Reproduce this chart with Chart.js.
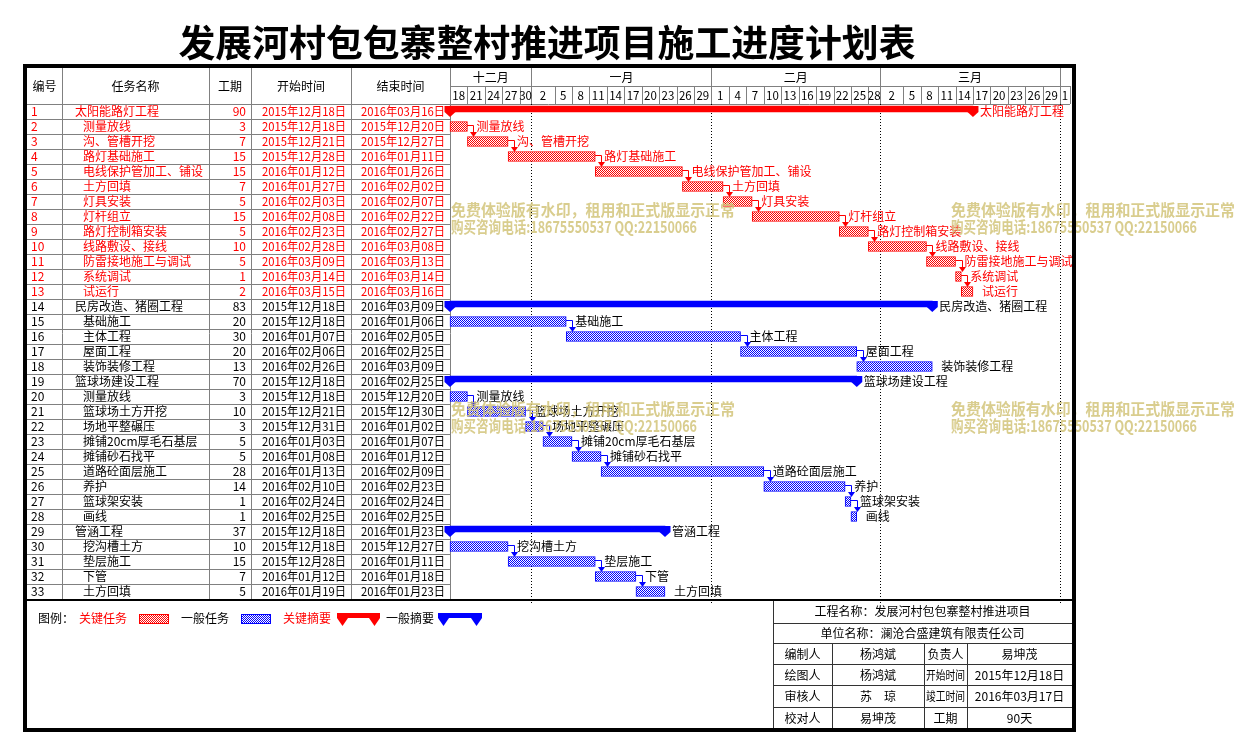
<!DOCTYPE html>
<html>
<head>
<meta charset="utf-8">
<script src="https://cdn.jsdelivr.net/npm/chart.js@4.4.0/dist/chart.umd.min.js"></script>
<style>
  html, body { margin: 0; padding: 0; background: #fff; overflow: hidden; }
  canvas { display: block; }
</style>
</head>
<body>
<canvas id="gantt" width="1234" height="754"></canvas>
<script>
const title = '发展河村包包寨整村推进项目施工进度计划表';

const taskIds = [1, 2, 3, 4, 5, 6, 7, 8, 9, 10, 11, 12, 13, 14, 15, 16, 17, 18, 19, 20, 21, 22, 23, 24, 25, 26, 27, 28, 29, 30, 31, 32, 33];
const taskNames = [
  '太阳能路灯工程', '测量放线', '沟、管槽开挖', '路灯基础施工', '电线保护管加工、铺设', '土方回填', '灯具安装',
  '灯杆组立', '路灯控制箱安装', '线路敷设、接线', '防雷接地施工与调试', '系统调试', '试运行',
  '民房改造、猪圈工程', '基础施工', '主体工程', '屋面工程', '装饰装修工程',
  '篮球场建设工程', '测量放线', '篮球场土方开挖', '场地平整碾压', '摊铺20cm厚毛石基层', '摊铺砂石找平',
  '道路砼面层施工', '养护', '篮球架安装', '画线',
  '管涵工程', '挖沟槽土方', '垫层施工', '下管', '土方回填'
];
const durations = [90, 3, 7, 15, 15, 7, 5, 15, 5, 10, 5, 1, 2, 83, 20, 30, 20, 13, 70, 3, 10, 3, 5, 5, 28, 14, 1, 1, 37, 10, 15, 7, 5];
const startDates = [
  '2015年12月18日', '2015年12月18日', '2015年12月21日', '2015年12月28日', '2016年01月12日', '2016年01月27日', '2016年02月03日',
  '2016年02月08日', '2016年02月23日', '2016年02月28日', '2016年03月09日', '2016年03月14日', '2016年03月15日',
  '2015年12月18日', '2015年12月18日', '2016年01月07日', '2016年02月06日', '2016年02月26日',
  '2015年12月18日', '2015年12月18日', '2015年12月21日', '2015年12月31日', '2016年01月03日', '2016年01月08日',
  '2016年01月13日', '2016年02月10日', '2016年02月24日', '2016年02月25日',
  '2015年12月18日', '2015年12月18日', '2015年12月28日', '2016年01月12日', '2016年01月19日'
];
const endDates = [
  '2016年03月16日', '2015年12月20日', '2015年12月27日', '2016年01月11日', '2016年01月26日', '2016年02月02日', '2016年02月07日',
  '2016年02月22日', '2016年02月27日', '2016年03月08日', '2016年03月13日', '2016年03月14日', '2016年03月16日',
  '2016年03月09日', '2016年01月06日', '2016年02月05日', '2016年02月25日', '2016年03月09日',
  '2016年02月25日', '2015年12月20日', '2015年12月30日', '2016年01月02日', '2016年01月07日', '2016年01月12日',
  '2016年02月09日', '2016年02月23日', '2016年02月24日', '2016年02月25日',
  '2016年01月23日', '2015年12月27日', '2016年01月11日', '2016年01月18日', '2016年01月23日'
];
const criticalRows = [1, 2, 3, 4, 5, 6, 7, 8, 9, 10, 11, 12, 13];
const summaryRows = [1, 14, 19, 29];

const monthNames = ['十二月', '一月', '二月', '三月', ''];
const monthStarts = ['2015年12月18日', '2016年01月01日', '2016年02月01日', '2016年03月01日', '2016年04月01日'];
const dayTickLabels = ['18', '21', '24', '27', '30', '2', '5', '8', '11', '14', '17', '20', '23', '26', '29',
  '1', '4', '7', '10', '13', '16', '19', '22', '25', '28', '2', '5', '8', '11', '14', '17', '20', '23', '26', '29', '1'];

const tableHeaders = ['编号', '任务名称', '工期', '开始时间', '结束时间'];
const legendLabels = ['图例：', '关键任务', '一般任务', '关键摘要', '一般摘要'];
const projectLine = '工程名称：发展河村包包寨整村推进项目';
const companyLine = '单位名称：澜沧合盛建筑有限责任公司';
const signRows = [
  ['编制人', '杨鸿斌', '负责人', '易坤茂'],
  ['绘图人', '杨鸿斌', '开始时间', '2015年12月18日'],
  ['审核人', '苏　琼', '竣工时间', '2016年03月17日'],
  ['校对人', '易坤茂', '工期', '90天']
];
const watermark = ['免费体验版有水印，租用和正式版显示正常', '购买咨询电话:18675550537 QQ:22150066'];

const RED = '#ff0000';
const BLUE = '#0000ff';
const GRID = '#808080';
const FONT = '"Noto Sans CJK SC", "Noto Sans", sans-serif';

const toDay = (s) => {
  const m = s.match(/(\d+)年(\d+)月(\d+)日/);
  const o = monthStarts[0].match(/(\d+)年(\d+)月(\d+)日/);
  return (Date.UTC(+m[1], m[2] - 1, +m[3]) - Date.UTC(+o[1], o[2] - 1, +o[3])) / 86400000;
};

const isCritical = (id) => criticalRows.includes(id);
const isSummary = (id) => summaryRows.includes(id);

const canvas = document.getElementById('gantt');
const mainCtx = canvas.getContext('2d');

const makePattern = (color) => {
  const pc = document.createElement('canvas');
  pc.width = 2; pc.height = 2;
  const p = pc.getContext('2d');
  p.fillStyle = '#ffffff';
  p.fillRect(0, 0, 2, 2);
  p.fillStyle = color;
  p.fillRect(0, 0, 1, 1);
  p.fillRect(1, 1, 1, 1);
  return mainCtx.createPattern(pc, 'repeat');
};
const redPattern = makePattern(RED);
const bluePattern = makePattern(BLUE);

const barData = (pick) => taskIds.map((id, i) => pick(id) ? [toDay(startDates[i]), toDay(endDates[i]) + 1] : null);

// dataset index for each row
const rowDataset = (id) => isSummary(id) ? (isCritical(id) ? 2 : 3) : (isCritical(id) ? 0 : 1);

const SUMMARY_SHIFT = -2.5;

const drawCap = (ctx, x, top, bottom, tip, color) => {
  ctx.fillStyle = color;
  ctx.beginPath();
  ctx.moveTo(x - 5.5, top);
  ctx.lineTo(x + 5.5, top);
  ctx.lineTo(x + 5.5, bottom);
  ctx.lineTo(x, tip);
  ctx.lineTo(x - 5.5, bottom);
  ctx.closePath();
  ctx.fill();
};

const text = (ctx, str, x, y, opts = {}) => {
  ctx.font = `${opts.weight || 'normal'} ${opts.size || 12}px ${FONT}`;
  ctx.fillStyle = opts.color || '#000';
  ctx.textAlign = opts.align || 'left';
  ctx.textBaseline = 'middle';
  if (opts.maxWidth) ctx.fillText(str, x, y, opts.maxWidth);
  else ctx.fillText(str, x, y);
};

const hLine = (ctx, x0, x1, y, color) => {
  ctx.strokeStyle = color; ctx.lineWidth = 1;
  ctx.beginPath(); ctx.moveTo(x0, Math.round(y) + 0.5); ctx.lineTo(x1, Math.round(y) + 0.5); ctx.stroke();
};
const vLine = (ctx, x, y0, y1, color) => {
  ctx.strokeStyle = color; ctx.lineWidth = 1;
  ctx.beginPath(); ctx.moveTo(Math.round(x) + 0.5, y0); ctx.lineTo(Math.round(x) + 0.5, y1); ctx.stroke();
};

const tableCols = [27, 62, 209, 251, 351, 450];

const ganttSheet = {
  id: 'ganttSheet',
  beforeDraw(chart) {
    const { ctx, chartArea, scales: { x, y } } = chart;
    ctx.save();
    ctx.fillStyle = '#fff';
    ctx.fillRect(0, 0, chart.width, chart.height);

    text(ctx, title, 547, 43, { size: 37, weight: 'bold', align: 'center', maxWidth: 737 });

    const headTop = 68, monthBottom = 86, headBottom = chartArea.top;
    const half = (y.getPixelForValue(1) - y.getPixelForValue(0)) / 2;

    // table header
    tableHeaders.forEach((h, i) => {
      text(ctx, h, (tableCols[i] + tableCols[i + 1]) / 2, (headTop + headBottom) / 2, { align: 'center' });
    });
    tableCols.slice(1).forEach((cx) => vLine(ctx, cx, headTop, chartArea.bottom, GRID));
    hLine(ctx, tableCols[0], chartArea.right, headBottom, GRID);

    // table rows
    taskIds.forEach((id, i) => {
      const cy = y.getPixelForValue(i);
      hLine(ctx, tableCols[0], tableCols[5], cy + half, GRID);
      const color = isCritical(id) ? RED : '#000';
      text(ctx, String(id), 31, cy, { color });
      text(ctx, taskNames[i], isSummary(id) ? 75 : 83, cy, { color });
      text(ctx, String(durations[i]), 246, cy, { color, align: 'right' });
      text(ctx, startDates[i], 346, cy, { color, align: 'right', maxWidth: 84 });
      text(ctx, endDates[i], 445, cy, { color, align: 'right', maxWidth: 84 });
    });

    // timeline header
    const months = monthStarts.map(toDay);
    const edges = [...months, x.max];
    hLine(ctx, chartArea.left, chartArea.right, monthBottom, GRID);
    monthNames.forEach((m, i) => {
      const a = x.getPixelForValue(edges[i]);
      const b = x.getPixelForValue(edges[i + 1]);
      if (i > 0) vLine(ctx, a, headTop, headBottom, GRID);
      text(ctx, m, (a + b) / 2, (headTop + monthBottom) / 2, { align: 'center' });
    });
    const ticks = dayTickLabels.map((_, i) => i * 3);
    const bounds = [...new Set([...ticks, ...months])]
      .filter((d) => !months.some((m) => d - m > 0 && d - m < 1.5))
      .sort((a, b) => a - b);
    bounds.push(x.max);
    bounds.forEach((d) => vLine(ctx, x.getPixelForValue(d), monthBottom, headBottom, GRID));
    dayTickLabels.forEach((lab, i) => {
      const k = bounds.findIndex((b, j) => b <= ticks[i] + 0.5 && ticks[i] + 0.5 < bounds[j + 1]);
      const cx = (x.getPixelForValue(bounds[k]) + x.getPixelForValue(bounds[k + 1])) / 2;
      text(ctx, lab, cx, (monthBottom + headBottom) / 2 + 0.5, { align: 'center', size: 11.5 });
    });

    // dotted month lines in the chart area
    ctx.setLineDash([1, 2]);
    months.slice(1).forEach((d) => vLine(ctx, x.getPixelForValue(d), chartArea.top, chartArea.bottom + 5, '#000'));
    ctx.setLineDash([]);
    ctx.restore();
  },
  beforeDatasetDraw(chart, args) {
    if (chart.data.datasets[args.index].summary) {
      chart.ctx.save();
      chart.ctx.translate(0, SUMMARY_SHIFT);
    }
  },
  afterDatasetDraw(chart, args) {
    if (chart.data.datasets[args.index].summary) chart.ctx.restore();
  },
  afterDatasetsDraw(chart) {
    const { ctx } = chart;
    const el = (i) => chart.getDatasetMeta(rowDataset(taskIds[i])).data[i];
    ctx.save();

    // summary end caps
    taskIds.forEach((id, i) => {
      if (!isSummary(id)) return;
      const e = el(i);
      const top = e.y - e.height / 2 + SUMMARY_SHIFT;
      const bottom = e.y + e.height / 2 + SUMMARY_SHIFT;
      const color = isCritical(id) ? RED : BLUE;
      drawCap(ctx, e.base, top, bottom, bottom + 5, color);
      drawCap(ctx, e.x, top, bottom, bottom + 5, color);
    });

    // links between consecutive tasks
    taskIds.forEach((id, i) => {
      if (i === taskIds.length - 1 || isSummary(id) || isSummary(taskIds[i + 1])) return;
      const a = el(i), b = el(i + 1);
      const color = isCritical(id) ? RED : BLUE;
      const xk = Math.round(a.x + 6) + 0.5;
      const y0 = Math.round(a.y - 2) + 0.5;
      const top = Math.round(b.y - b.height / 2);
      ctx.strokeStyle = color; ctx.lineWidth = 1;
      ctx.beginPath();
      ctx.moveTo(Math.round(a.x), y0);
      ctx.lineTo(xk, y0);
      ctx.lineTo(xk, top - 4);
      ctx.stroke();
      ctx.fillStyle = color;
      ctx.beginPath();
      ctx.moveTo(xk - 3.5, top - 5);
      ctx.lineTo(xk + 3.5, top - 5);
      ctx.lineTo(xk, top);
      ctx.closePath();
      ctx.fill();
    });

    // bar labels
    taskIds.forEach((id, i) => {
      const e = el(i);
      const color = isCritical(id) ? RED : '#000';
      text(ctx, taskNames[i], e.x + (isSummary(id) ? 7 : 9), e.y, { color });
    });
    ctx.restore();
  },
  afterDraw(chart) {
    const { ctx } = chart;
    ctx.save();

    // legend
    const ly = 618;
    text(ctx, legendLabels[0], 38, ly);
    text(ctx, legendLabels[1], 79, ly, { color: RED });
    ctx.fillStyle = redPattern; ctx.fillRect(139, 614, 30, 10);
    ctx.strokeStyle = RED; ctx.strokeRect(139.5, 614.5, 29, 9);
    text(ctx, legendLabels[2], 181, ly);
    ctx.fillStyle = bluePattern; ctx.fillRect(241, 614, 30, 10);
    ctx.strokeStyle = BLUE; ctx.strokeRect(241.5, 614.5, 29, 9);
    text(ctx, legendLabels[3], 283, ly, { color: RED });
    ctx.fillStyle = RED; ctx.fillRect(342, 613, 33, 5);
    drawCap(ctx, 342.5, 613, 618, 626, RED);
    drawCap(ctx, 374.5, 613, 618, 626, RED);
    text(ctx, legendLabels[4], 386, ly);
    ctx.fillStyle = BLUE; ctx.fillRect(443, 613, 34, 5);
    drawCap(ctx, 443.5, 613, 618, 626, BLUE);
    drawCap(ctx, 476.5, 613, 618, 626, BLUE);

    // sign-off box
    const bx = [773, 832, 924, 967, 1072];
    const by = [600, 623, 643, 664, 685, 707, 729];
    const boxLine = '#333';
    vLine(ctx, bx[0], by[0], by[6], boxLine);
    by.slice(1, 6).forEach((yy) => hLine(ctx, bx[0], bx[4], yy, boxLine));
    bx.slice(1, 4).forEach((xx) => vLine(ctx, xx, by[2], by[6], boxLine));
    text(ctx, projectLine, (bx[0] + bx[4]) / 2, (by[0] + by[1]) / 2, { align: 'center' });
    text(ctx, companyLine, (bx[0] + bx[4]) / 2, (by[1] + by[2]) / 2, { align: 'center' });
    signRows.forEach((row, r) => {
      row.forEach((cell, c) => {
        text(ctx, cell, (bx[c] + bx[c + 1]) / 2, (by[r + 2] + by[r + 3]) / 2 + 0.5,
          { align: 'center', maxWidth: bx[c + 1] - bx[c] - 4 });
      });
    });

    // trial watermark
    [[451, 210], [951, 210], [451, 409], [951, 409]].forEach(([wx, wy]) => {
      ctx.globalAlpha = 0.85;
      text(ctx, watermark[0], wx, wy, { size: 16, weight: 'bold', color: '#d2c47a', maxWidth: 284 });
      text(ctx, watermark[1], wx, wy + 17, { size: 16, weight: 'bold', color: '#d2c47a', maxWidth: 246 });
      ctx.globalAlpha = 1;
    });

    // frame
    ctx.fillStyle = '#000';
    ctx.fillRect(27, 599, 1045, 2);
    ctx.fillRect(23, 64, 1053, 4);
    ctx.fillRect(23, 64, 4, 668);
    ctx.fillRect(1072, 64, 4, 668);
    ctx.fillRect(23, 728, 1053, 4);
    ctx.restore();
  }
};

new Chart(canvas, {
  type: 'bar',
  data: {
    labels: taskIds.map(String),
    datasets: [
      {
        label: '关键任务',
        data: barData((id) => isCritical(id) && !isSummary(id)),
        backgroundColor: redPattern,
        borderColor: RED,
        borderWidth: 1,
        borderSkipped: false,
        barThickness: 10,
        grouped: false,
        clip: false
      },
      {
        label: '一般任务',
        data: barData((id) => !isCritical(id) && !isSummary(id)),
        backgroundColor: bluePattern,
        borderColor: BLUE,
        borderWidth: 1,
        borderSkipped: false,
        barThickness: 10,
        grouped: false,
        clip: false
      },
      {
        label: '关键摘要',
        summary: true,
        data: barData((id) => isCritical(id) && isSummary(id)),
        backgroundColor: RED,
        borderWidth: 0,
        barThickness: 6,
        grouped: false,
        clip: false
      },
      {
        label: '一般摘要',
        summary: true,
        data: barData((id) => !isCritical(id) && isSummary(id)),
        backgroundColor: BLUE,
        borderWidth: 0,
        barThickness: 6,
        grouped: false,
        clip: false
      }
    ]
  },
  options: {
    indexAxis: 'y',
    responsive: false,
    animation: false,
    devicePixelRatio: 1,
    layout: {
      padding: { left: 450, right: 164, top: 104, bottom: 155 }
    },
    scales: {
      x: { type: 'linear', min: 0, max: 106.7, display: false },
      y: { type: 'category', display: false }
    },
    plugins: {
      legend: { display: false },
      tooltip: { enabled: false }
    }
  },
  plugins: [ganttSheet]
});
</script>
</body>
</html>
